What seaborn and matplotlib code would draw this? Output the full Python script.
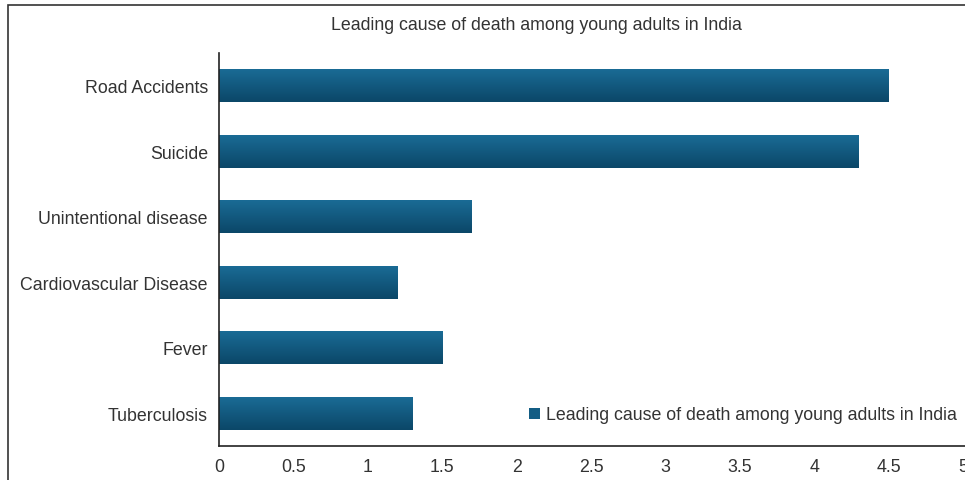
import numpy as np
import pandas as pd
import matplotlib
matplotlib.use("Agg")
import matplotlib.pyplot as plt
from matplotlib.colors import LinearSegmentedColormap
from matplotlib.patches import Patch, Rectangle
import seaborn as sns

title = "Leading cause of death among young adults in India"
causes = ["Road Accidents", "Suicide", "Unintentional disease",
          "Cardiovascular Disease", "Fever", "Tuberculosis"]
values = [4.5, 4.3, 1.7, 1.2, 1.5, 1.3]
xticks = [0, 0.5, 1, 1.5, 2, 2.5, 3, 3.5, 4, 4.5, 5]
xtick_labels = ["0", "0.5", "1", "1.5", "2", "2.5", "3", "3.5", "4", "4.5", "5"]

df = pd.DataFrame({"cause": causes, "value": values})

sns.set_theme(style="white")
plt.rcParams["font.family"] = ["Liberation Sans", "DejaVu Sans"]
text_color = "#333333"
fs = 12.8

fig = plt.figure(figsize=(9.65, 4.81), dpi=100)
ax = fig.add_axes([219 / 965, 1 - 447 / 481, (963 - 219) / 965, (447 - 54) / 481])

sns.barplot(data=df, x="value", y="cause", orient="h", color="#135d84",
            width=0.5, ax=ax)

# vertical gradient fill for each bar
grad_cmap = LinearSegmentedColormap.from_list("bar_grad", ["#1a6b95", "#0b4768"])
grad = np.linspace(0, 1, 64).reshape(-1, 1)
for p in ax.patches:
    x0, y0, w, h = p.get_x(), p.get_y(), p.get_width(), p.get_height()
    p.set_facecolor("none")
    p.set_edgecolor("none")
    im = ax.imshow(grad, cmap=grad_cmap, aspect="auto", origin="upper",
                   extent=(x0, x0 + w, y0 + h, y0), interpolation="bicubic",
                   zorder=2)
    im.set_clip_path(p)

ax.set_xlim(0, 5)
ax.set_ylim(len(causes) - 0.5, -0.5)
ax.set_xticks(xticks)
ax.set_xticklabels(xtick_labels)
ax.set_xlabel("")
ax.set_ylabel("")
ax.tick_params(axis="both", length=0, labelsize=fs, colors=text_color)
ax.tick_params(axis="y", pad=8)
ax.tick_params(axis="x", pad=9)
for side in ["top", "right"]:
    ax.spines[side].set_visible(False)
for side in ["left", "bottom"]:
    ax.spines[side].set_color("#222222")
    ax.spines[side].set_linewidth(1.2)
ax.spines["bottom"].set_bounds(0, 5.2)
ax.spines["bottom"].set_clip_on(False)

fig.text(536 / 965, 1 - 26 / 481, title, ha="center", va="center",
         fontsize=fs, color=text_color)

handle = Patch(facecolor="#135d84", edgecolor="none", label=title)
fig.legend(handles=[handle], loc="center left",
           bbox_to_anchor=(522 / 965, 1 - 416 / 481), frameon=False,
           fontsize=fs, handlelength=0.6, handleheight=0.6,
           handletextpad=0.35, labelcolor=text_color, borderaxespad=0)

# outer frame around the chart area
fig.patches.append(Rectangle((8 / 965, -0.1), 1.2, 1.1 - 6 / 481,
                             transform=fig.transFigure, fill=False,
                             edgecolor="#333333", linewidth=1.2))

fig.savefig("out.png", dpi=100)
